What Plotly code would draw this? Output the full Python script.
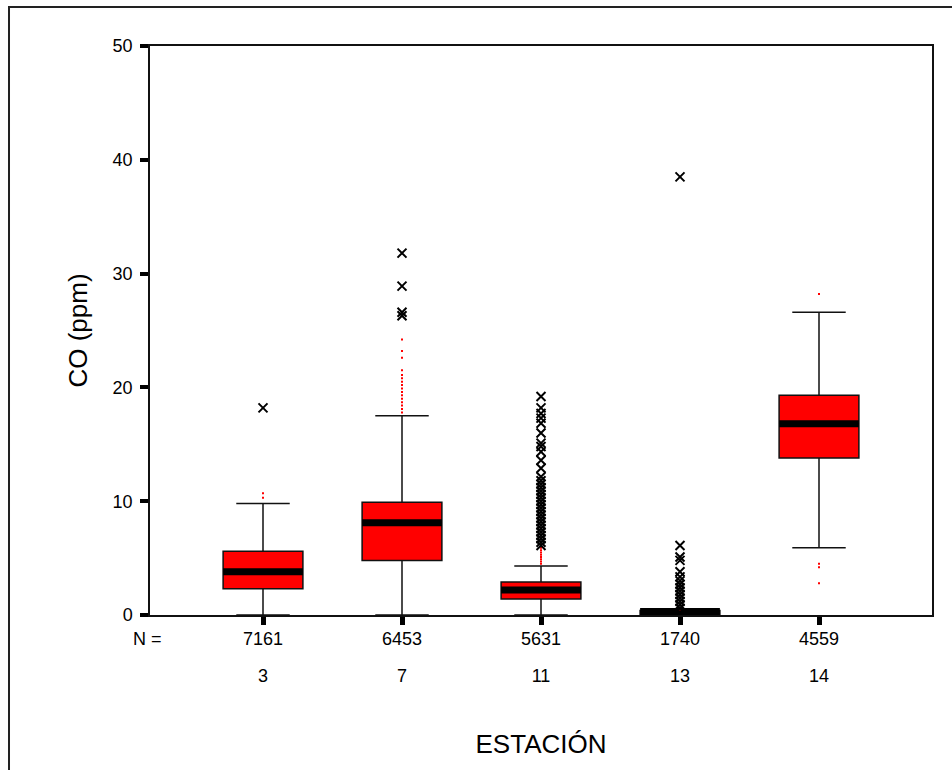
import plotly.graph_objects as go

# ---------------- data ----------------
categories = ["3", "7", "11", "13", "14"]
n_obs = [7161, 6453, 5631, 1740, 4559]

q1 = [2.3, 4.8, 1.4, 0.0, 13.8]
median = [3.8, 8.1, 2.2, 0.3, 16.8]
q3 = [5.6, 9.9, 2.9, 0.4, 19.3]
lower_whisker = [0.0, 0.0, 0.0, 0.0, 5.9]
upper_whisker = [9.8, 17.5, 4.3, 0.5, 26.6]

# outliers (small red dots) per station
outliers_3 = [10.3, 10.7]
outliers_7 = [17.8, 18.1, 18.4, 18.7, 19.0, 19.3, 19.6, 19.9, 20.2, 20.5,
              20.8, 21.1, 21.5, 22.6, 23.2, 24.2]
outliers_11 = [4.5, 4.7, 4.9, 5.1, 5.3, 5.5, 5.7, 5.9]
outliers_13 = [0.5]
outliers_14 = [28.2, 4.5, 4.2, 2.8]

# extremes (x markers) per station
extremes_3 = [18.2]
extremes_7 = [26.3, 26.6, 28.9, 31.8]
extremes_11 = [6.1, 6.4, 6.7, 7.0, 7.3, 7.6, 7.9, 8.2, 8.5, 8.8, 9.1, 9.4,
               9.7, 10.0, 10.3, 10.6, 10.9, 11.2, 11.5, 11.8, 12.15, 12.9,
               13.6, 14.35, 14.8, 15.1, 16.0, 16.85, 17.3, 17.7, 18.2, 19.2]
extremes_13 = [0.6, 0.9, 1.2, 1.5, 1.8, 2.1, 2.4, 2.7, 3.0, 3.35, 3.8,
               4.8, 5.1, 6.1, 38.5]
extremes_14 = []

y_ticks = [0, 10, 20, 30, 40, 50]

outliers_by_station = [outliers_3, outliers_7, outliers_11, outliers_13, outliers_14]
extremes_by_station = [extremes_3, extremes_7, extremes_11, extremes_13, extremes_14]

FONT = "Arial, Liberation Sans, sans-serif"

fig = go.Figure()

# main boxes
fig.add_trace(go.Box(
    x=categories, q1=q1, median=median, q3=q3,
    lowerfence=lower_whisker, upperfence=upper_whisker,
    fillcolor="#ff0000", line=dict(color="#111111", width=1.5),
    whiskerwidth=0.67, boxpoints=False, showlegend=False, hoverinfo="skip",
))

# thick median bars
fig.add_trace(go.Box(
    x=categories, q1=median, median=median, q3=median,
    lowerfence=median, upperfence=median,
    fillcolor="#000000", line=dict(color="#000000", width=7),
    whiskerwidth=0, boxpoints=False, showlegend=False, hoverinfo="skip",
))

ox, oy = [], []
for cat, vals in zip(categories, outliers_by_station):
    for v in vals:
        ox.append(cat)
        oy.append(v)
fig.add_trace(go.Scatter(
    x=ox, y=oy, mode="markers", showlegend=False, hoverinfo="skip",
    marker=dict(symbol="square", size=2, color="#ff0000", line=dict(width=0)),
))

ex, ey = [], []
for cat, vals in zip(categories, extremes_by_station):
    for v in vals:
        ex.append(cat)
        ey.append(v)
fig.add_trace(go.Scatter(
    x=ex, y=ey, mode="markers", showlegend=False, hoverinfo="skip",
    marker=dict(symbol="x-thin", size=9, color="#000000",
                line=dict(width=2, color="#000000")),
))

# N counts under each category (x = category index on the category axis)
for i, n in enumerate(n_obs):
    fig.add_annotation(x=i, y=-0.042, xref="x", yref="paper", text=str(n),
                       showarrow=False, xanchor="center", yanchor="middle",
                       font=dict(family=FONT, size=18, color="#000000"))
fig.add_annotation(x=-0.003, y=-0.042, xref="paper", yref="paper", text="N =",
                   showarrow=False, xanchor="center", yanchor="middle",
                   font=dict(family=FONT, size=18, color="#000000"))

# outer frame
fig.add_shape(type="rect", xref="paper", yref="paper",
              x0=-0.1803, x1=1.05, y0=-0.35, y1=1.0685,
              line=dict(color="#222222", width=2), layer="below")

fig.update_layout(
    width=952, height=770,
    margin=dict(l=150, r=20, t=46, b=155),
    paper_bgcolor="white", plot_bgcolor="white",
    boxmode="overlay", boxgap=0.18,
    font=dict(family=FONT, color="#000000"),
    showlegend=False,
    xaxis=dict(
        type="category", categoryorder="array", categoryarray=categories,
        range=[-0.813, 4.813],
        showline=True, linecolor="#111111", linewidth=1.5, mirror=True,
        showgrid=False, zeroline=False,
        ticks="outside", ticklen=8, tickwidth=5, tickcolor="#000000",
        ticklabelstandoff=36,
        tickfont=dict(family=FONT, size=18, color="#000000"),
        title=dict(text="ESTACIÓN", standoff=49,
                   font=dict(family=FONT, size=26, color="#000000")),
    ),
    yaxis=dict(
        range=[0, 50], tickvals=y_ticks,
        showline=True, linecolor="#111111", linewidth=1.5, mirror=True,
        showgrid=False, zeroline=False,
        ticks="outside", ticklen=8, tickwidth=4, tickcolor="#000000",
        ticklabelstandoff=4,
        tickfont=dict(family=FONT, size=18, color="#000000"),
        title=dict(text="CO (ppm)", standoff=18,
                   font=dict(family=FONT, size=26, color="#000000")),
    ),
)

fig.write_html("out.html")
